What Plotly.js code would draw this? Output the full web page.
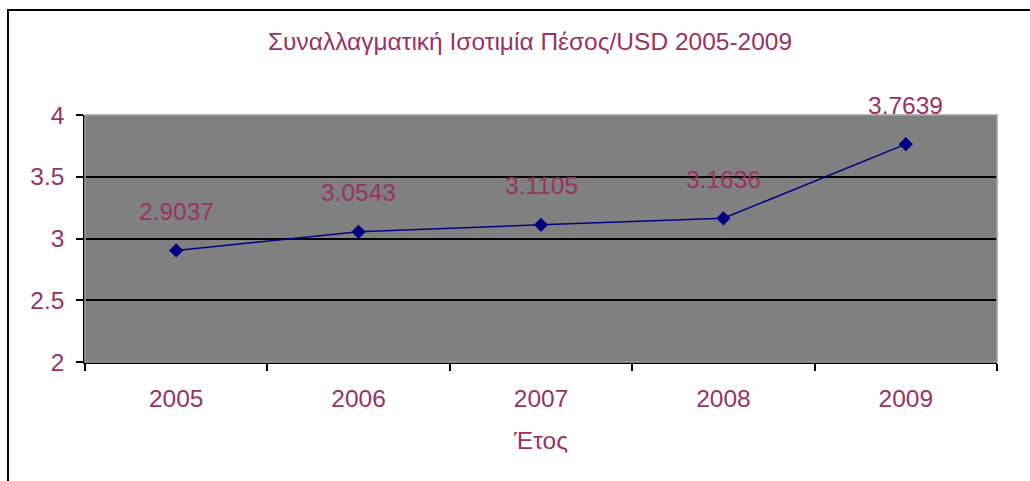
<!DOCTYPE html>
<html>
<head>
<meta charset="utf-8">
<script src="https://cdn.plot.ly/plotly-3.0.1.min.js"></script>
<style>
html,body{margin:0;padding:0;background:#fff;}
#wrap{position:relative;width:1030px;height:481px;overflow:hidden;}
#chart{position:absolute;left:0;top:0;width:1030px;height:481px;}
#frame{position:absolute;left:7px;top:9px;width:1030px;height:500px;border-top:2px solid #000;border-left:2px solid #000;pointer-events:none;}
</style>
</head>
<body>
<div id="wrap"><div id="chart"></div><div id="frame"></div></div>
<script>
const years = ['2005', '2006', '2007', '2008', '2009'];
const rates = [2.9037, 3.0543, 3.1105, 3.1636, 3.7639];
const yTicks = [2, 2.5, 3, 3.5, 4];
const chartTitle = 'Συναλλαγματική Ισοτιμία Πέσος/USD 2005-2009';
const xTitle = 'Έτος';

const textColor = '#993366';
const fontFamily = 'Liberation Sans, Arial, sans-serif';
const fs = 24.5;

const trace = {
  x: years,
  y: rates,
  type: 'scatter',
  mode: 'lines+markers',
  line: {color: '#000080', width: 1.5},
  marker: {symbol: 'diamond', size: 11, color: '#000080'},
  hoverinfo: 'skip'
};

const labelAnns = years.map(function (yr, i) {
  return {
    x: i, y: rates[i], xref: 'x', yref: 'y',
    text: String(rates[i].toFixed(4)), showarrow: false,
    yshift: 39, xanchor: 'center', yanchor: 'middle',
    font: {family: fontFamily, size: fs, color: textColor}
  };
});

const layout = {
  width: 1030, height: 481,
  margin: {l: 85, r: 33, t: 115, b: 119},
  paper_bgcolor: 'rgba(0,0,0,0)',
  plot_bgcolor: '#808080',
  showlegend: false,
  title: {
    text: chartTitle, x: 530/1030, xref: 'container', xanchor: 'center',
    y: 1 - 41/481, yref: 'container', yanchor: 'middle',
    font: {family: fontFamily, size: fs, color: textColor}
  },
  xaxis: {
    type: 'category', range: [-0.5, 4.5],
    tickson: 'boundaries', ticks: 'outside', ticklen: 7, tickcolor: '#000', tickwidth: 1.5,
    showline: true, linecolor: '#000', linewidth: 1.5,
    showgrid: false, zeroline: false,
    tickfont: {family: fontFamily, size: fs, color: textColor},
    ticklabelstandoff: 14,
    title: {text: xTitle, font: {family: fontFamily, size: fs, color: textColor}, standoff: 21}
  },
  yaxis: {
    range: [2, 4], tickvals: yTicks, ticktext: yTicks.map(String),
    ticks: 'outside', ticklen: 7, tickcolor: '#000', tickwidth: 1.5,
    showline: true, linecolor: '#000', linewidth: 1.5,
    showgrid: true, gridcolor: '#000', gridwidth: 1.5, zeroline: false,
    tickfont: {family: fontFamily, size: fs, color: textColor},
    ticklabelstandoff: 7
  },
  shapes: [{
    type: 'rect', xref: 'paper', yref: 'paper', x0: 0, x1: 1, y0: 0, y1: 1,
    line: {color: '#a0a0a0', width: 1.5}, layer: 'above'
  }],
  annotations: labelAnns
};

Plotly.newPlot('chart', [trace], layout, {displayModeBar: false});
</script>
</body>
</html>
